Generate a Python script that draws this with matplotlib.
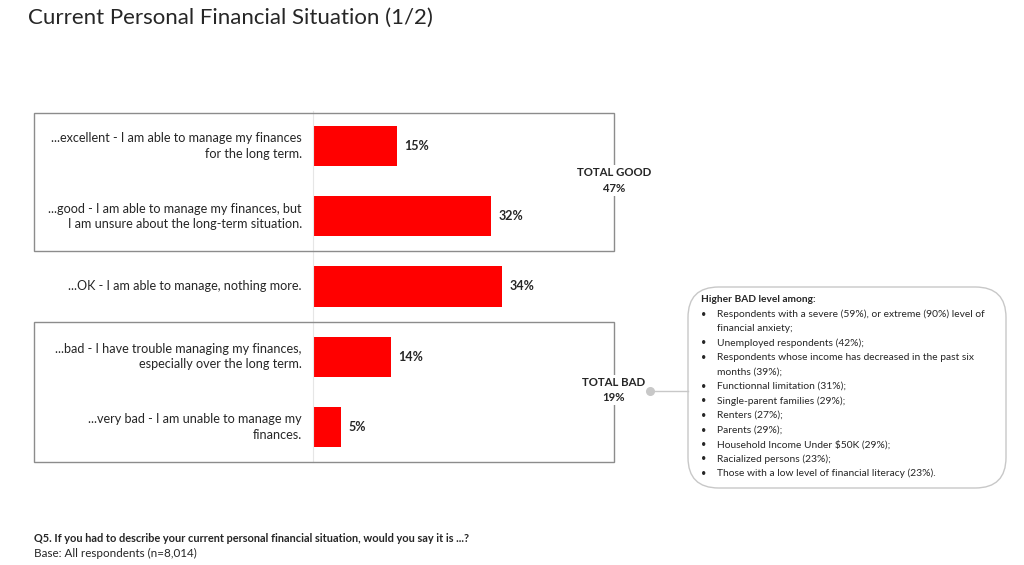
import matplotlib
matplotlib.use("Agg")
import matplotlib.pyplot as plt
from matplotlib.patches import Rectangle, FancyBboxPatch
from matplotlib.lines import Line2D

plt.rcParams['font.family'] = ['Lato', 'DejaVu Sans']

# ---------------- data ----------------
categories = [
    "...excellent - I am able to manage my finances\nfor the long term.",
    "...good - I am able to manage my finances, but\nI am unsure about the long-term situation.",
    "...OK - I am able to manage, nothing more.",
    "...bad - I have trouble managing my finances,\nespecially over the long term.",
    "...very bad - I am unable to manage my\nfinances.",
]
values = [15, 32, 34, 14, 5]
total_good_label = "TOTAL GOOD"
total_good_value = 47
total_bad_label = "TOTAL BAD"
total_bad_value = 19
callout_title = "Higher BAD level among:"
callout_items = [
    "Respondents with a severe (59%), or extreme (90%) level of\nfinancial anxiety;",
    "Unemployed respondents (42%);",
    "Respondents whose income has decreased in the past six\nmonths (39%);",
    "Functionnal limitation (31%);",
    "Single-parent families (29%);",
    "Renters (27%);",
    "Parents (29%);",
    "Household Income Under $50K (29%);",
    "Racialized persons (23%);",
    "Those with a low level of financial literacy (23%).",
]
title = "Current Personal Financial Situation (1/2)"
question = "Q5. If you had to describe your current personal financial situation, would you say it is ...?"
base = "Base: All respondents (n=8,014)"

TXT = "#262626"

# ---------------- figure ----------------
W, H = 1024, 565
fig = plt.figure(figsize=(W / 100, H / 100), dpi=100)
fig.patch.set_facecolor("white")


def fx(px):
    return px / W


def fy(py):
    return 1 - py / H


# axes placed in pixel space
ax_left, ax_right, ax_top, ax_bottom = 313, 614, 111, 462
ax = fig.add_axes([fx(ax_left), fy(ax_bottom), fx(ax_right - ax_left), (ax_bottom - ax_top) / H])
ax.set_xlim(0, (ax_right - ax_left) / 5.57)
ax.set_ylim(len(categories) - 0.5, -0.5)
ypos = list(range(len(categories)))
ax.barh(ypos, values, height=0.57, color="#ff0000", edgecolor="none")
for y, v in zip(ypos, values):
    ax.text(v + 1.3, y, f"{v}%", va="center", ha="left", fontsize=9, fontweight="bold", color=TXT)
for y, c in zip(ypos, categories):
    ax.text(-2.0, y, c, va="center", ha="right", fontsize=9.1, color=TXT, linespacing=1.35)
ax.set_xticks([])
ax.set_yticks([])
for s in ["top", "right", "bottom"]:
    ax.spines[s].set_visible(False)
ax.spines["left"].set_color("#e6e6e6")
ax.spines["left"].set_linewidth(0.8)
ax.patch.set_alpha(0)

# group boxes
box_kw = dict(transform=fig.transFigure, fill=False, edgecolor="#8c8c8c", linewidth=1.0, zorder=0)
fig.patches.append(Rectangle((fx(34), fy(251)), fx(614 - 34), (251 - 113) / H, **box_kw))
fig.patches.append(Rectangle((fx(34), fy(462)), fx(614 - 34), (462 - 322) / H, **box_kw))

lab_kw = dict(ha="center", va="center", fontsize=8.2, fontweight="bold", color=TXT,
              linespacing=1.5, bbox=dict(facecolor="white", edgecolor="none", pad=1.5))
fig.text(fx(614), fy(180.5), f"{total_good_label}\n{total_good_value}%", **lab_kw)
fig.text(fx(614), fy(390), f"{total_bad_label}\n{total_bad_value}%", **lab_kw)

# connector + callout
fig.lines.append(Line2D([fx(650), fx(688)], [fy(391), fy(391)], transform=fig.transFigure,
                        color="#c8c8c8", linewidth=1.0, zorder=5))
fig.lines.append(Line2D([fx(650)], [fy(391)], transform=fig.transFigure, marker="o",
                        markersize=5.5, color="#c8c8c8", linestyle="none", zorder=5))
fig.patches.append(FancyBboxPatch((fx(688), fy(488)), fx(1006 - 688), (488 - 287) / H,
                                  boxstyle="round,pad=0,rounding_size=0.03",
                                  transform=fig.transFigure, facecolor="white",
                                  edgecolor="#c8c8c8", linewidth=1.0, mutation_aspect=1.8,
                                  zorder=1))

fig.text(fx(701), fy(299), callout_title, ha="left", va="center", fontsize=7.3,
         fontweight="bold", color=TXT)
line_pitch = 14.5
line_idx = 0
for item in callout_items:
    y0 = 314 + line_idx * line_pitch
    fig.text(fx(704), fy(y0), "•", ha="center", va="center", fontsize=6.5, color=TXT)
    for k, part in enumerate(item.split("\n")):
        fig.text(fx(717), fy(y0 + k * line_pitch), part, ha="left", va="center",
                 fontsize=7.4, color=TXT)
    line_idx += item.count("\n") + 1

# title and footer
fig.text(fx(28), fy(18), title, ha="left", va="center", fontsize=16, color=TXT)
fig.text(fx(34), fy(538), question, ha="left", va="center", fontsize=7.9, fontweight="bold", color=TXT)
fig.text(fx(34), fy(553), base, ha="left", va="center", fontsize=8.4, color=TXT)

fig.savefig("out.png", dpi=100, facecolor="white")
